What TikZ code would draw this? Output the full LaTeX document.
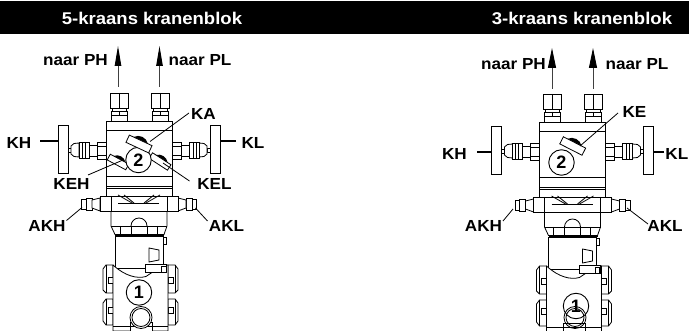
\documentclass[tikz,border=0pt]{standalone}
\usepackage{fontspec}
\setmainfont{Liberation Sans}
\newfontfamily\widelab[FakeStretch=1.07]{Liberation Sans}
\newfontfamily\widehead[FakeStretch=1.09]{Liberation Sans}
\usetikzlibrary{arrows.meta}
\tikzset{
  part/.style={draw=black,fill=white,line width=0.8pt},
  ln/.style={draw=black,line width=0.8pt},
  leader/.style={draw=black,line width=0.8pt},
  wheelline/.style={draw=black,line width=1.2pt},
  lab/.style={font=\widelab\fontsize{16}{16}\bfseries\selectfont,inner sep=0pt,text=black},
  head/.style={font=\widehead\fontsize{17}{17}\bfseries\selectfont,inner sep=0pt,text=white},
  flow/.style={draw=black!75,line width=0.9pt,-{Triangle[length=20pt,width=6.5pt,fill=black,color=black]}},
  badge/.style={circle,draw=black,fill=white,line width=0.9pt,minimum size=25.5pt,inner sep=0pt,font=\fontsize{18}{18}\bfseries\selectfont}
}
\newcommand{\sidefit}{%
  \draw[part] (-81,125) rectangle (-71,173);
  \draw[part] (-71,148) rectangle (-68,152);
  \draw[part] (-68,146) -- (-65,143.5) -- (-60,143) -- (-60,157) -- (-65,156.5) -- (-68,154) -- cycle;
  \draw[part] (-60,142.5) rectangle (-50,158);
  \draw[ln] (-57,142.5) -- (-57,158) (-54,142.5) -- (-54,158);
  \draw[part] (-50,145) rectangle (-42,156);
  \draw[part] (-42,142) rectangle (-33,159);
  \draw[ln] (-42,146) -- (-33,146) (-42,155) -- (-33,155);
}
\newcommand{\topfit}[1]{%
  \begin{scope}[shift={(#1,0)}]
  \draw[part] (-9,93) rectangle (9,108);
  \draw[ln] (0,93) -- (0,108);
  \draw[part] (-7,108) rectangle (7,111);
  \draw[part] (-8,111) rectangle (8,121);
  \draw[ln] (-8,115.5) -- (8,115.5) (0,111) -- (0,115.5);
  \end{scope}}
\newcommand{\drainfit}{%
  \draw[part] (-39,198.5) rectangle (-36,209.5);
  \draw[part] (-57.5,199.5) rectangle (-53,209);
  \draw[part] (-53,198) rectangle (-47,210);
  \draw[part] (-47,200) -- (-39,198) -- (-39,211) -- (-47,208) -- cycle;
}
\newcommand{\cover}{%
  \draw[part] (-36,269) -- (-33,265) -- (-26,265) -- (-26,293) -- (-33,293) -- (-36,290) -- cycle;
  \draw[part] (-36,303) -- (-33,299) -- (-26,299) -- (-26,325) -- (-33,325) -- (-36,321) -- cycle;
  \draw[ln] (-33,265) -- (-33,293) (-33,299) -- (-33,325);
  \draw[part] (-31,277) rectangle (-26,283);
  \draw[part] (-31,307) rectangle (-26,313);
}
\newcommand{\assembly}{%
  \topfit{-20}\topfit{21}
  \sidefit
  \begin{scope}[xscale=-1]\sidefit\end{scope}
  \draw[part] (-33,121) rectangle (33,196);
  \draw[ln] (-33,130) -- (33,130) (-33,176.5) -- (33,176.5) (-33,186) -- (33,186) (-33,188) -- (33,188);
  \drainfit
  \begin{scope}[xscale=-1]\drainfit\end{scope}
  \draw[part] (-39,196) -- (39,196) -- (39,211.5) -- (-39,211.5) -- cycle;
  \draw[ln] (-28,196) -- (-28,211.5) (28,196) -- (28,211.5);
  \draw[ln] (-21,195) -- (-7,203) (21,195) -- (7,203) (-15,195) -- (-5,203) (15,195) -- (5,203);
  \draw[ln] (-21,203) -- (20,203);
  \draw[part] (-28,211.5) -- (-28,226) -- (-24,234.5) -- (25,234.5) -- (28,226) -- (28,211.5) -- cycle;
  \draw[ln] (-28,226) -- (28,226);
  \draw[ln] (-19,226) -- (-19,234.5) (-8,226) -- (-8,234) (8,226) -- (8,234) (18,226) -- (18,234.5);
  \draw[part] (-8,226) arc[start angle=180,end angle=360,radius=8];
  \draw[ln,line width=1.1pt] (-24,235.5) -- (25,235.5);
  \draw[part] (-24,236) rectangle (24,268);
  \draw[part] (24,237) rectangle (27,244);
  \draw[part] (10,248) -- (20,250) -- (20,260) -- (10,262) -- cycle;
  \cover
  \begin{scope}[shift={(3,0)},xscale=-1]\cover\end{scope}
  \draw[part] (-26,265) -- (-26,331) -- (29,331) -- (29,265) -- (24,265)
     -- (7,276.5) .. controls (-2,279) and (-14,276) .. (-26,265);
  \draw[ln] (-26,326) -- (29,326);
  \draw[part] (6.5,264.5) rectangle (27.5,272.5);
  \draw[part] (22.5,266) rectangle (27,272);
  \draw[part] (-9,322) -- (-9,331) -- (13,331) -- (13,322) -- cycle;
  \draw[ln] (-9,326) -- (13,326);
}
\newcommand{\valve}[5]{% x y angle len wid
  \begin{scope}[shift={(#1,#2)},rotate=#3]
  \fill[black] (-#4*0.32,-#5*0.5) .. controls (-#4*0.15,-#5*1.15) and (#4*0.15,-#5*1.15) .. (#4*0.32,-#5*0.5) -- cycle;
  \draw[part] (-#4*0.5,-#5*0.5) rectangle (#4*0.5,#5*0.5);
  \end{scope}}
\begin{document}
\begin{tikzpicture}[x=1pt,y=-1pt]
\useasboundingbox (0,0) rectangle (689,331);
\clip (0,0) rectangle (689,331);
\fill[white] (0,0) rectangle (689,331);
\fill[black] (0,1) rectangle (689,34.5);
\node[head] (t1) at (152,18) {5-kraans kranenblok};
\node[head] (t2) at (582,18) {3-kraans kranenblok};

% ---------- left
\begin{scope}[shift={(139,0)}]
 \assembly
\end{scope}
\valve{118}{162}{-28}{21}{6.5}
\valve{160}{161.5}{-33}{22}{6.5}
\node[badge] (c2a) at (138.5,160) {2};
\valve{139}{144}{-25}{25}{8}
\draw[part] (141,317.5) circle (11);
\draw[ln] (141,317.5) circle (9);
\node[badge] (c1a) at (139,292.5) {1};

\coordinate (pha) at (118,87);  \coordinate (phae) at (118,46);
\coordinate (pla) at (159.5,87);\coordinate (plae) at (159.5,46);
\draw[flow] (pha) -- (phae);
\draw[flow] (pla) -- (plae);
\node[lab] (nph) at (75.5,60) {naar PH};
\node[lab] (npl) at (200,60) {naar PL};
\node[lab] (ka) at (203.5,114) {KA};
\node[lab] (kh) at (19,142.5) {KH};
\node[lab] (kl) at (253,142.5) {KL};
\node[lab] (keh) at (71.5,184) {KEH};
\node[lab] (kel) at (214.5,184) {KEL};
\node[lab] (akh) at (47,226) {AKH};
\node[lab] (akl) at (226.5,226) {AKL};
\coordinate (kaE) at (189,113); \coordinate (kaV) at (150,141.5);
\coordinate (kehS) at (88,175); \coordinate (kehV) at (123,160);
\coordinate (kelS) at (189.5,181); \coordinate (kelV) at (163,163);
\coordinate (khS) at (40,141); \coordinate (khW) at (58,141);
\coordinate (klS) at (236,141); \coordinate (klW) at (220,141);
\coordinate (akhS) at (66.5,220.5); \coordinate (akhF) at (82,207.5);
\coordinate (aklS) at (207.5,221); \coordinate (aklF) at (195.5,208);
\draw[leader] (kaE) -- (kaV);
\draw[leader] (kehS) -- (kehV);
\draw[leader] (kelS) -- (kelV);
\draw[wheelline] (khS) -- (khW);
\draw[wheelline] (klS) -- (klW);
\draw[leader] (akhS) -- (akhF);
\draw[leader] (aklS) -- (aklF);

% ---------- right
\begin{scope}[shift={(572.5,1)}]
 \assembly
\end{scope}
\valve{572.7}{146}{-27}{25}{8}
\node[badge] (c2b) at (561.5,162.5) {2};
\node[badge] (c1b) at (576,306) {1};
\draw[ln] (575,317.5) circle (11);
\draw[ln] (575,317.5) circle (9);

\coordinate (phb) at (552,89);  \coordinate (phbe) at (552,48);
\coordinate (plb) at (593,89);  \coordinate (plbe) at (593,48);
\draw[flow,-{Triangle[length=20pt,width=8pt,fill=black,color=black]}] (phb) -- (phbe);
\draw[flow,-{Triangle[length=20pt,width=8pt,fill=black,color=black]}] (plb) -- (plbe);
\node[lab] (nph2) at (513.5,64) {naar PH};
\node[lab] (npl2) at (637,64) {naar PL};
\node[lab] (ke) at (634.5,112) {KE};
\node[lab] (kh2) at (454.5,153.5) {KH};
\node[lab,anchor=east] (kl2) at (688.5,153.5) {KL};
\node[lab] (akh2) at (483.5,225.5) {AKH};
\node[lab] (akl2) at (665,225.5) {AKL};
\coordinate (keE) at (618,113); \coordinate (keV) at (580,146);
\coordinate (khS2) at (477,152); \coordinate (khW2) at (492,152);
\coordinate (klS2) at (664,152); \coordinate (klW2) at (653,152);
\coordinate (akhS2) at (503,221); \coordinate (akhF2) at (513,209);
\coordinate (aklS2) at (648,224); \coordinate (aklF2) at (627,208);
\draw[leader] (keE) -- (keV);
\draw[wheelline] (khS2) -- (khW2);
\draw[wheelline] (klS2) -- (klW2);
\draw[leader] (akhS2) -- (akhF2);
\draw[leader] (aklS2) -- (aklF2);
\end{tikzpicture}
\end{document}
